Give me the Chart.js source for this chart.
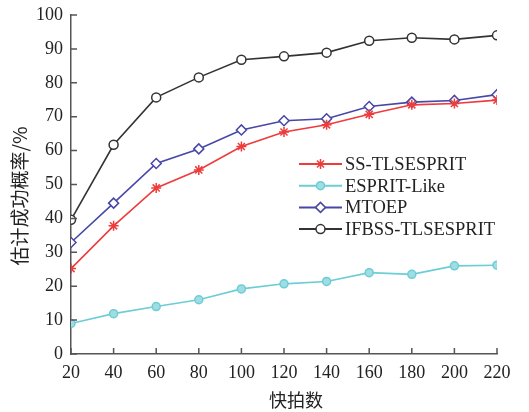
<!DOCTYPE html>
<html>
<head>
<meta charset="utf-8">
<script src="https://cdn.jsdelivr.net/npm/chart.js@4/dist/chart.umd.min.js"></script>
<style>
    html, body { margin: 0; padding: 0; background: #fff; }
    #wrap { width: 529px; height: 412px; }
</style>
</head>
<body>
<div id="wrap"><canvas id="myChart" width="529" height="412"></canvas></div>
<script>
// data
const snapshots = [20, 40, 60, 80, 100, 120, 140, 160, 180, 200, 220];
const ssTls = [25.2, 37.8, 49, 54.3, 61.2, 65.5, 67.6, 70.7, 73.5, 73.9, 74.9];
const espritLike = [9, 11.9, 14, 16, 19.2, 20.7, 21.4, 24, 23.5, 26, 26.2];
const mtoep = [32.9, 44.5, 56.2, 60.5, 66.1, 68.8, 69.4, 73, 74.3, 74.8, 76.5];
const ifbss = [39.6, 61.7, 75.7, 81.6, 86.8, 87.8, 88.9, 92.4, 93.3, 92.8, 94];
const yTicks = [0, 10, 20, 30, 40, 50, 60, 70, 80, 90, 100];
const xTitle = '快拍数';
const yTitle = '估计成功概率/%';

const serif = '"Liberation Serif", "DejaVu Serif", serif';
const cjk = '"Noto Sans CJK SC", sans-serif';
const axisColor = '#555';

function toPoints(arr) {
    return arr.map((v, i) => ({ x: snapshots[i], y: v }));
}

// ticks point inward, drawn from the scale itself
const innerTicks = {
    id: 'innerTicks',
    afterDraw(chart) {
        const ctx = chart.ctx;
        const xs = chart.scales.x, ys = chart.scales.y;
        const area = chart.chartArea;
        ctx.save();
        ctx.strokeStyle = axisColor;
        ctx.lineWidth = 1.5;
        ctx.beginPath();
        yTicks.forEach(v => {
            const py = ys.getPixelForValue(v);
            ctx.moveTo(area.left, py);
            ctx.lineTo(area.left + 6, py);
        });
        snapshots.forEach(v => {
            const px = xs.getPixelForValue(v);
            ctx.moveTo(px, area.bottom);
            ctx.lineTo(px, area.bottom - 6);
        });
        ctx.stroke();

        // axis titles, placed like the original figure
        ctx.fillStyle = '#222';
        ctx.textAlign = 'center';
        ctx.textBaseline = 'middle';
        ctx.font = '18px ' + cjk;
        ctx.fillText(xTitle, 296, 400);
        ctx.translate(20, 196);
        ctx.rotate(-Math.PI / 2);
        ctx.font = '19px ' + cjk;
        ctx.fillText(yTitle, 0, 0);
        ctx.restore();
    }
};

// legend inside the plot
const innerLegend = {
    id: 'innerLegend',
    afterDraw(chart) {
        const ctx = chart.ctx;
        const x0 = 299, lineLen = 43, gap = 3;
        let y = 164;
        ctx.save();
        chart.data.datasets.forEach(ds => {
            ctx.strokeStyle = ds.borderColor;
            ctx.lineWidth = 2;
            ctx.beginPath();
            ctx.moveTo(x0, y);
            ctx.lineTo(x0 + lineLen, y);
            ctx.stroke();
            ctx.fillStyle = ds.pointBackgroundColor;
            ctx.lineWidth = ds.pointBorderWidth;
            Chart.helpers.drawPoint(ctx, {
                pointStyle: ds.pointStyle,
                radius: ds.pointRadius,
                borderWidth: ds.pointBorderWidth
            }, x0 + lineLen / 2, y);
            ctx.fillStyle = '#222';
            ctx.font = '18.5px ' + serif;
            ctx.textAlign = 'left';
            ctx.textBaseline = 'middle';
            ctx.fillText(ds.label, x0 + lineLen + gap, y + 1);
            y += 21.7;
        });
        ctx.restore();
    }
};

const ctx = document.getElementById('myChart').getContext('2d');

function series(label, data, color, style, radius, fill) {
    return {
        label: label,
        data: toPoints(data),
        borderColor: color,
        backgroundColor: fill,
        borderWidth: 1.6,
        pointStyle: style,
        pointRadius: radius,
        pointBorderWidth: 1.5,
        pointBorderColor: color,
        pointBackgroundColor: fill,
        tension: 0
    };
}

const myChart = new Chart(ctx, {
    type: 'line',
    data: {
        datasets: [
            series('SS-TLSESPRIT', ssTls, '#ee3b3b', 'star', 5, '#ee3b3b'),
            series('ESPRIT-Like', espritLike, '#6ccdd6', 'circle', 4, '#9fdde3'),
            series('MTOEP', mtoep, '#4747a8', 'rectRot', 5, '#ffffff'),
            series('IFBSS-TLSESPRIT', ifbss, '#333333', 'circle', 4.5, '#ffffff')
        ]
    },
    options: {
        responsive: false,
        animation: false,
        layout: {
            padding: { left: 0, right: 32, top: 15, bottom: 0 }
        },
        scales: {
            x: {
                type: 'linear',
                min: 20,
                max: 220,
                afterBuildTicks: s => { s.ticks = snapshots.map(v => ({ value: v })); },
                afterFit: s => { s.height = 58; s.paddingLeft = 0; s.paddingRight = 0; },
                grid: { display: false, drawTicks: false },
                border: { color: axisColor, width: 1.5 },
                ticks: {
                    color: '#222',
                    padding: 8,
                    maxRotation: 0,
                    autoSkip: false,
                    font: { family: serif, size: 18 }
                }
            },
            y: {
                min: 0,
                max: 100,
                afterBuildTicks: s => { s.ticks = yTicks.map(v => ({ value: v })); },
                afterFit: s => { s.width = 71; s.paddingTop = 0; s.paddingBottom = 0; },
                grid: { display: false, drawTicks: false },
                border: { color: axisColor, width: 1.5 },
                ticks: {
                    color: '#222',
                    padding: 8,
                    font: { family: serif, size: 18 }
                }
            }
        },
        plugins: {
            legend: { display: false },
            tooltip: { enabled: false }
        }
    },
    plugins: [innerTicks, innerLegend]
});
</script>
</body>
</html>
